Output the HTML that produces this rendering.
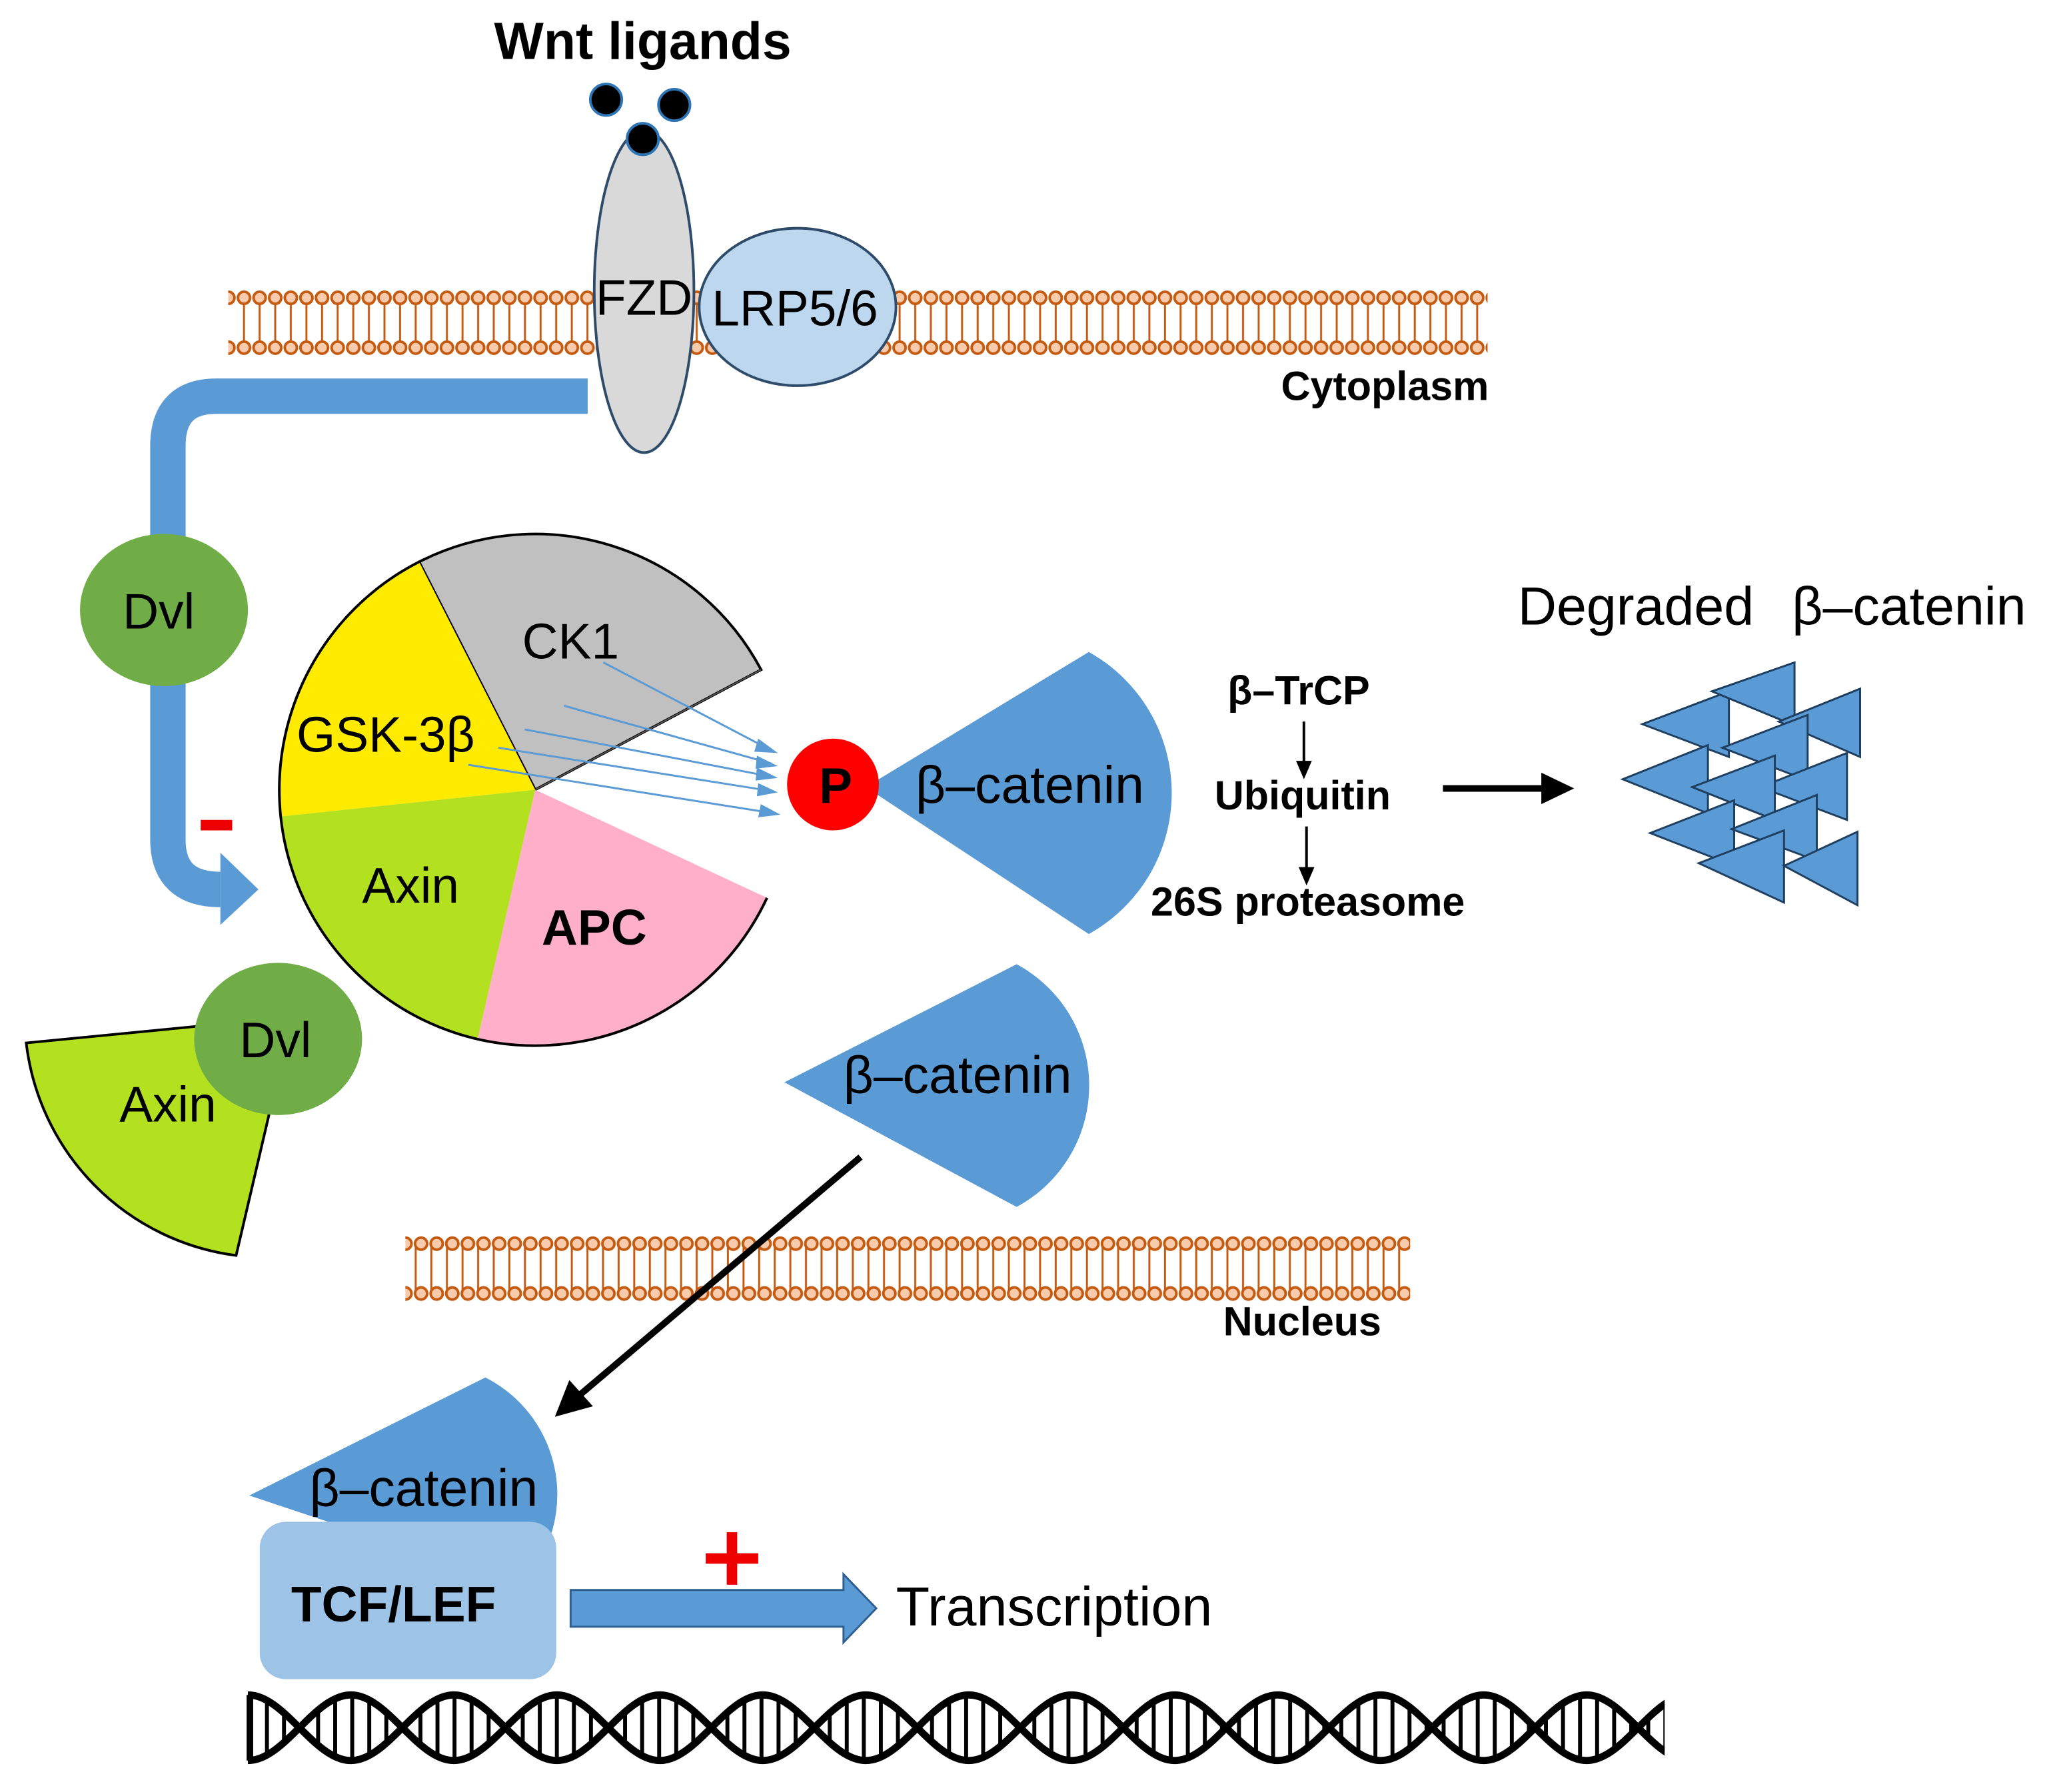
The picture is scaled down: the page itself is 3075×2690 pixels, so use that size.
<!DOCTYPE html>
<html><head><meta charset="utf-8"><style>html,body{margin:0;padding:0;background:#fff}svg{display:block}text{font-family:"Liberation Sans",sans-serif}</style></head>
<body>
<svg width="3075" height="2690" viewBox="0 0 1562 1366" preserveAspectRatio="none" xmlns="http://www.w3.org/2000/svg">
<defs>
<pattern id="mem" x="180" y="0" width="11.9" height="1366" patternUnits="userSpaceOnUse">
<line x1="6" y1="0" x2="6" y2="1366" stroke="#c55a11" stroke-width="1.5"/>
</pattern>
<clipPath id="dnaClip"><rect x="186" y="1280" width="1083" height="80"/></clipPath>
<clipPath id="lens" clip-rule="evenodd"><path clip-rule="evenodd" d="M189,1292 c28,0 50.5,50 78.5,50 s50.5,-50 78.5,-50 s50.5,50 78.5,50 s50.5,-50 78.5,-50 s50.5,50 78.5,50 s50.5,-50 78.5,-50 s50.5,50 78.5,50 s50.5,-50 78.5,-50 s50.5,50 78.5,50 s50.5,-50 78.5,-50 s50.5,50 78.5,50 s50.5,-50 78.5,-50 s50.5,50 78.5,50 s50.5,-50 78.5,-50 L1288,1342 c-28,0 -50.5,-50 -78.5,-50 s-50.5,50 -78.5,50 s-50.5,-50 -78.5,-50 s-50.5,50 -78.5,50 s-50.5,-50 -78.5,-50 s-50.5,50 -78.5,50 s-50.5,-50 -78.5,-50 s-50.5,50 -78.5,50 s-50.5,-50 -78.5,-50 s-50.5,50 -78.5,50 s-50.5,-50 -78.5,-50 s-50.5,50 -78.5,50 s-50.5,-50 -78.5,-50 s-50.5,50 -78.5,50 Z"/></clipPath>
<pattern id="rung" x="189" y="0" width="13" height="1366" patternUnits="userSpaceOnUse"><rect x="0" y="0" width="3" height="1366" fill="#000"/></pattern>
<pattern id="heads" x="180" y="0" width="11.9" height="1366" patternUnits="userSpaceOnUse">
<circle cx="6" cy="227" r="4.6" fill="#f8cbad" stroke="#c55a11" stroke-width="2"/>
<circle cx="6" cy="265" r="4.6" fill="#f8cbad" stroke="#c55a11" stroke-width="2"/>
</pattern>
<pattern id="heads2" x="315" y="0" width="11.9" height="1366" patternUnits="userSpaceOnUse">
<circle cx="6" cy="948" r="4.6" fill="#f8cbad" stroke="#c55a11" stroke-width="2"/>
<circle cx="6" cy="986" r="4.6" fill="#f8cbad" stroke="#c55a11" stroke-width="2"/>
</pattern>
</defs>

<rect x="180" y="227" width="952" height="38" fill="url(#mem)"/>
<rect x="174" y="218" width="960" height="56" fill="url(#heads)"/>
<rect x="315" y="948" width="759" height="38" fill="url(#mem)"/>
<rect x="309" y="939" width="766" height="56" fill="url(#heads2)"/>
<text x="1135" y="305" font-size="31" font-weight="bold" text-anchor="end">Cytoplasm</text>
<text x="1053" y="1018" font-size="31" font-weight="bold" text-anchor="end">Nucleus</text>

<path d="M448,302 L165,302 Q128,302 128,340 L128,640 Q128,678 168,678" fill="none" stroke="#5b9bd5" stroke-width="27"/>
<polygon points="168,650 197,678 168,705" fill="#5b9bd5"/>
<rect x="153" y="625" width="24" height="8" fill="#e00"/>

<ellipse cx="491" cy="222" rx="38" ry="123" fill="#d9d9d9" stroke="#2f4b6a" stroke-width="2"/>
<ellipse cx="608" cy="234" rx="75" ry="60" fill="#bdd7ee" stroke="#2f4b6a" stroke-width="2"/>
<text x="491" y="240" font-size="38" text-anchor="middle">FZD</text>
<text x="606" y="248" font-size="38" text-anchor="middle">LRP5/6</text>
<circle cx="462" cy="76" r="12" fill="#000" stroke="#2e75b6" stroke-width="2"/>
<circle cx="514" cy="80" r="12" fill="#000" stroke="#2e75b6" stroke-width="2"/>
<circle cx="490" cy="106" r="12" fill="#000" stroke="#2e75b6" stroke-width="2"/>
<text x="490" y="45" font-size="40" font-weight="bold" text-anchor="middle">Wnt ligands</text>

<ellipse cx="125" cy="465" rx="64" ry="58" fill="#70ad47"/>
<text x="121" y="479" font-size="38" text-anchor="middle">Dvl</text>

<!-- Pie -->
<path d="M408,602 L319.5,428.3 A195,195 0 0 1 580.2,510.5 Z" fill="#c0c0c0" stroke="#000" stroke-width="2"/>
<path d="M408,602 L214.1,622.4 A195,195 0 0 1 319.5,428.3 Z" fill="#ffeb00"/>
<path d="M408,602 L364.1,792 A195,195 0 0 1 214.1,622.4 Z" fill="#b3e01f"/>
<path d="M408,602 L584.7,684.4 A195,195 0 0 1 364.1,792 Z" fill="#ffafc9"/>
<path d="M584.7,684.4 A195,195 0 1 1 319.5,428.3" fill="none" stroke="#000" stroke-width="2"/>
<path d="M580.2,510.5 L408,602" fill="none" stroke="#555" stroke-width="1"/>
<text x="435" y="502" font-size="38" text-anchor="middle">CK1</text>
<text x="294" y="573" font-size="38" text-anchor="middle">GSK-3β</text>
<text x="313" y="688" font-size="38" text-anchor="middle">Axin</text>
<text x="453" y="720" font-size="38" font-weight="bold" text-anchor="middle">APC</text>

<g stroke="#5b9bd5" stroke-width="1.5">
<line x1="460" y1="505" x2="588" y2="572"/>
<line x1="430" y1="538" x2="588" y2="582"/>
<line x1="400" y1="556" x2="588" y2="592"/>
<line x1="380" y1="570" x2="588" y2="603"/>
<line x1="357" y1="583" x2="590" y2="620"/>
</g>
<g fill="#5b9bd5">
<polygon points="593,574 578,563 575,573"/>
<polygon points="593,584 577,576 576,586"/>
<polygon points="593,593 577,585 576,595"/>
<polygon points="593,604 578,597 577,607"/>
<polygon points="595,621 580,613 578,623"/>
</g>

<path d="M660,600 L830,497 A123,123 0 0 1 830,712 Z" fill="#5b9bd5"/>
<circle cx="635" cy="598" r="35" fill="#ff0000"/>
<text x="637" y="612" font-size="38" font-weight="bold" text-anchor="middle">P</text>
<text x="785" y="612" font-size="40" text-anchor="middle">β–catenin</text>

<text x="990" y="537" font-size="31" font-weight="bold" text-anchor="middle">β–TrCP</text>
<line x1="994" y1="550" x2="994" y2="585" stroke="#000" stroke-width="2"/>
<polygon points="988,580 1000,580 994,594" fill="#000"/>
<text x="993" y="617" font-size="31" font-weight="bold" text-anchor="middle">Ubiquitin</text>
<line x1="996" y1="630" x2="996" y2="666" stroke="#000" stroke-width="2"/>
<polygon points="990,661 1002,661 996,675" fill="#000"/>
<text x="997" y="698" font-size="31" font-weight="bold" text-anchor="middle">26S proteasome</text>
<line x1="1100" y1="601" x2="1180" y2="601" stroke="#000" stroke-width="5"/>
<polygon points="1175,589 1200,601 1175,613" fill="#000"/>
<text x="1157" y="476" font-size="41">Degraded</text>
<text x="1366" y="476" font-size="41">β–catenin</text>
<g fill="#5b9bd5" stroke="#1f3f60" stroke-width="1.5">
<polygon points="1252,552 1318,527 1318,577"/>
<polygon points="1305,527 1368,505 1368,553"/>
<polygon points="1356,550 1418,525 1418,577"/>
<polygon points="1237,594 1302,568 1302,620"/>
<polygon points="1313,570 1378,545 1378,595"/>
<polygon points="1342,600 1408,574 1408,625"/>
<polygon points="1290,600 1353,576 1353,625"/>
<polygon points="1258,635 1322,610 1322,660"/>
<polygon points="1320,632 1385,606 1385,656"/>
<polygon points="1295,658 1360,633 1360,688"/>
<polygon points="1360,660 1416,634 1416,690"/>
</g>

<path d="M20,795 L195,778 L205,850 L180,957 A185,185 0 0 1 20,795 Z" fill="#b3e01f" stroke="#000" stroke-width="2"/>
<ellipse cx="212" cy="792" rx="64" ry="58" fill="#70ad47"/>
<text x="128" y="855" font-size="38" text-anchor="middle">Axin</text>
<text x="210" y="806" font-size="38" text-anchor="middle">Dvl</text>

<path d="M598,825 L775,735 A105,105 0 0 1 775,920 Z" fill="#5b9bd5"/>
<text x="730" y="833" font-size="40" text-anchor="middle">β–catenin</text>

<line x1="656" y1="882" x2="440" y2="1065" stroke="#000" stroke-width="5"/>
<polygon points="423,1080 434,1052 452,1072" fill="#000"/>

<path d="M190,1140 L370,1050 A100,100 0 0 1 420,1170 L280,1170 Z" fill="#5b9bd5"/>
<rect x="198" y="1160" width="226" height="120" rx="20" fill="#9dc3e6"/>
<text x="323" y="1148" font-size="40" text-anchor="middle">β–catenin</text>
<text x="300" y="1236" font-size="38" font-weight="bold" text-anchor="middle">TCF/LEF</text>

<path d="M435,1212 L643,1212 L643,1200 L668,1226 L643,1252 L643,1240 L435,1240 Z" fill="#5b9bd5" stroke="#2f5f8f" stroke-width="1.5"/>
<rect x="538" y="1184" width="40" height="8" fill="#e00"/>
<rect x="554" y="1168" width="8" height="40" fill="#e00"/>
<text x="683" y="1239" font-size="42">Transcription</text>

<g clip-path="url(#dnaClip)">
<rect x="186" y="1280" width="1110" height="80" fill="url(#rung)" clip-path="url(#lens)"/>
<path d="M189,1292 c28,0 50.5,50 78.5,50 s50.5,-50 78.5,-50 s50.5,50 78.5,50 s50.5,-50 78.5,-50 s50.5,50 78.5,50 s50.5,-50 78.5,-50 s50.5,50 78.5,50 s50.5,-50 78.5,-50 s50.5,50 78.5,50 s50.5,-50 78.5,-50 s50.5,50 78.5,50 s50.5,-50 78.5,-50 s50.5,50 78.5,50 s50.5,-50 78.5,-50" fill="none" stroke="#000" stroke-width="5.5"/>
<path d="M189,1342 c28,0 50.5,-50 78.5,-50 s50.5,50 78.5,50 s50.5,-50 78.5,-50 s50.5,50 78.5,50 s50.5,-50 78.5,-50 s50.5,50 78.5,50 s50.5,-50 78.5,-50 s50.5,50 78.5,50 s50.5,-50 78.5,-50 s50.5,50 78.5,50 s50.5,-50 78.5,-50 s50.5,50 78.5,50 s50.5,-50 78.5,-50 s50.5,50 78.5,50" fill="none" stroke="#000" stroke-width="5.5"/>
</g>
<rect x="188" y="1292" width="5" height="50" fill="#000"/>
</svg>
</body></html>
